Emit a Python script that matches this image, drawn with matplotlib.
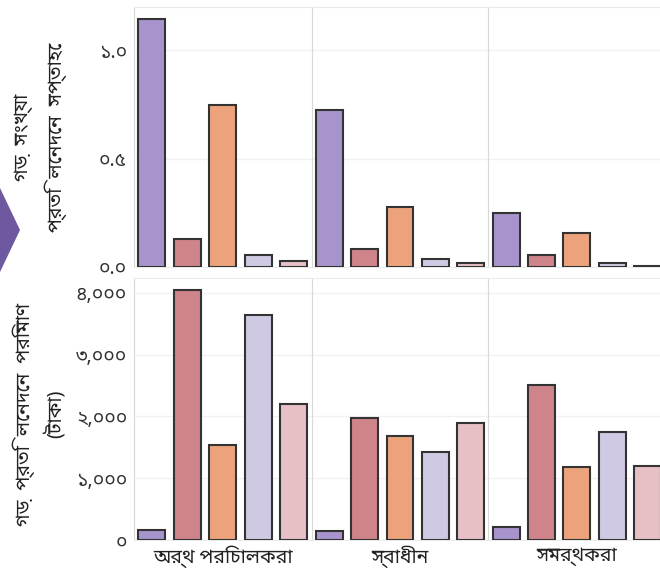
import matplotlib
matplotlib.use('Agg')
import matplotlib.pyplot as plt
from matplotlib.patches import Polygon

plt.rcParams['font.family'] = ['Noto Sans Bengali', 'Lohit Bengali', 'FreeSans', 'DejaVu Sans']

# data
groups = ['অর্থ পরিচালকরা', 'স্বাধীন', 'সমর্থকরা']
weekly = [[1.144, 0.130, 0.748, 0.054, 0.027],
          [0.725, 0.084, 0.276, 0.039, 0.020],
          [0.248, 0.054, 0.155, 0.020, 0.005]]
amount = [[164, 4044, 1541, 3634, 2202],
          [148, 1978, 1683, 1421, 1891],
          [208, 2503, 1175, 1749, 1202]]
top_ticks = [0, 0.5, 1.0]
top_labels = ['০.০', '০.৫', '১.০']
bot_ticks = [0, 1000, 2000, 3000, 4000]
bot_labels = ['০', '১,০০০', '২,০০০', '৩,০০০', '৪,০০০']
top_ylabel = 'গড়  সংখ্যা\nপ্রতি  লেনদেন  সপ্তাহে'
bot_ylabel = 'গড়  প্রতি  লেনদেন  পরিমাণ\n(টাকা)'

colors = ['#a894cc', '#cf848b', '#eca37c', '#d0c9e3', '#e6c0c4']

W, H = 660, 575
fig = plt.figure(figsize=(W / 100, H / 100), dpi=100)

col_edges = [134, 311.5, 488.4, 665.5]
rows = [(7, 267, weekly, 1.2, top_ticks, top_labels),
        (278, 540, amount, 4240, bot_ticks, bot_labels)]

for r, (y0, y1, data, ymax, ticks, labels) in enumerate(rows):
    for c in range(3):
        x0, x1 = col_edges[c], col_edges[c + 1]
        ax = fig.add_axes([x0 / W, 1 - y1 / H, (x1 - x0) / W, (y1 - y0) / H])
        ax.bar(range(5), data[c], width=0.76, color=colors,
               edgecolor='#333333', linewidth=1.5, zorder=3)
        ax.set_xlim(-0.5, 4.5)
        ax.set_ylim(0, ymax)
        ax.set_yticks(ticks)
        ax.grid(True, axis='y', color='#f1f1f1', linewidth=1, zorder=0)
        for s in ['top', 'bottom']:
            ax.spines[s].set_color('#ebebeb')
        ax.spines['left'].set_color('#d8d8d8')
        ax.spines['right'].set_visible(False)
        ax.tick_params(length=0)
        if c == 0:
            ax.set_yticklabels(labels, fontsize=14, color='#333333')
            ax.tick_params(axis='y', pad=5)
        else:
            ax.set_yticklabels([])
        if r == 1:
            ax.set_xticks([2])
            ax.set_xticklabels([groups[c]], fontsize=14, color='#222222')
            ax.tick_params(axis='x', pad=4)
        else:
            ax.set_xticks([])

fig.text(40 / W, 1 - 137 / H, top_ylabel, rotation=90, ha='center', va='center',
         multialignment='center', fontsize=14, linespacing=1.6, color='#222222')
fig.text(39 / W, 1 - 414 / H, bot_ylabel, rotation=90, ha='center', va='center',
         multialignment='center', fontsize=14, linespacing=1.5, color='#222222')

# purple arrow on the left edge
pts = [(0, 188), (20, 230), (0, 272)]
fig.patches.append(Polygon([(x / W, 1 - y / H) for x, y in pts], closed=True,
                           transform=fig.transFigure, facecolor='#6e58a0',
                           edgecolor='none'))

fig.savefig('out.png', dpi=100)
